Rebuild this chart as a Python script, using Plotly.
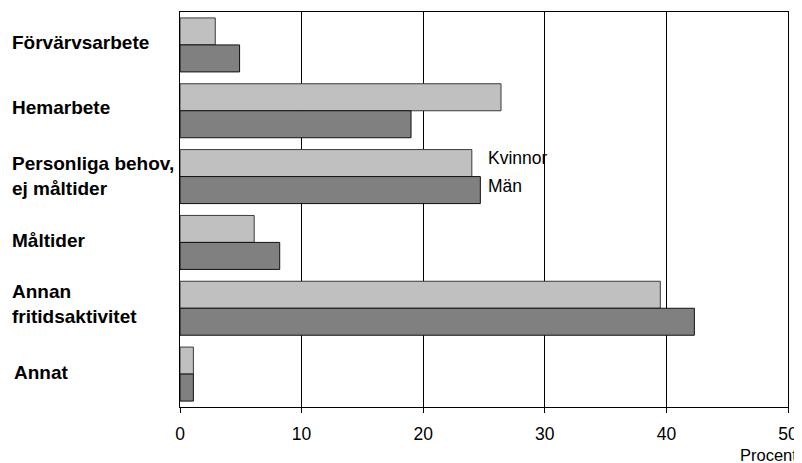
import plotly.graph_objects as go

# DATA
KATEGORIER = [
    "Förvärvsarbete",
    "Hemarbete",
    "Personliga behov,<br>ej måltider",
    "Måltider",
    "Annan<br>fritidsaktivitet",
    "Annat",
]
KVINNOR = [2.9, 26.4, 24.0, 6.1, 39.5, 1.1]
MAN = [4.9, 19.0, 24.7, 8.2, 42.3, 1.1]
X_TICKS = [0, 10, 20, 30, 40, 50]

FONT = "Liberation Sans, Arial, sans-serif"
Y_IDS = list(range(len(KATEGORIER)))

# sidan har 8 px marginal runt figuren
W, H = 794, 455


def main():
    fig = go.Figure()
    fig.add_trace(go.Bar(
        y=Y_IDS, x=KVINNOR, orientation="h", name="Kvinnor",
        marker=dict(color="#c0c0c0", line=dict(color="#3a3a3a", width=1)),
    ))
    fig.add_trace(go.Bar(
        y=Y_IDS, x=MAN, orientation="h", name="Män",
        marker=dict(color="#808080", line=dict(color="#111111", width=1)),
    ))

    # kategorinamn, vänsterjusterade
    yshifts = [2, 3, 1, 2, 4, 2]
    for i, namn in enumerate(KATEGORIER):
        fig.add_annotation(
            x=0, xref="paper", xshift=-170 + (2 if i == 5 else 0),
            y=i, yref="y", yshift=yshifts[i],
            text=f"<b>{namn}</b>", showarrow=False, xanchor="left", align="left",
            font=dict(family=FONT, size=19, color="black"),
        )

    # serienamn vid Personliga behov
    fig.add_annotation(x=25.2, y=2 - 0.28, text="Kvinnor", showarrow=False,
                       xanchor="left", font=dict(family=FONT, size=17.5, color="black"))
    fig.add_annotation(x=25.2, y=2 + 0.14, text="Män", showarrow=False,
                       xanchor="left", font=dict(family=FONT, size=17.5, color="black"))

    fig.add_annotation(x=1.0, xref="paper", xshift=11, y=0, yref="paper", yshift=-48,
                       text="Procent", showarrow=False, xanchor="right", yanchor="middle",
                       font=dict(family=FONT, size=16.5, color="black"))

    fig.update_layout(
        width=W, height=H,
        margin=dict(l=172, r=14, t=4, b=56),
        barmode="group", bargap=0.18, bargroupgap=0,
        showlegend=False,
        plot_bgcolor="white", paper_bgcolor="white",
        font=dict(family=FONT, size=17.5, color="black"),
    )
    fig.update_xaxes(
        range=[0, 50], tickvals=X_TICKS, showgrid=True, gridcolor="black", gridwidth=1,
        showline=True, linecolor="black", linewidth=1, mirror=True,
        ticks="outside", ticklen=5, tickcolor="black", zeroline=False,
        ticklabelstandoff=6,
    )
    fig.update_yaxes(
        range=[len(KATEGORIER) - 0.5, -0.5], showticklabels=False, showgrid=False,
        showline=True, linecolor="black", linewidth=1, mirror=True, zeroline=False,
    )
    fig.write_html("out.html")


if __name__ == "__main__":
    main()
